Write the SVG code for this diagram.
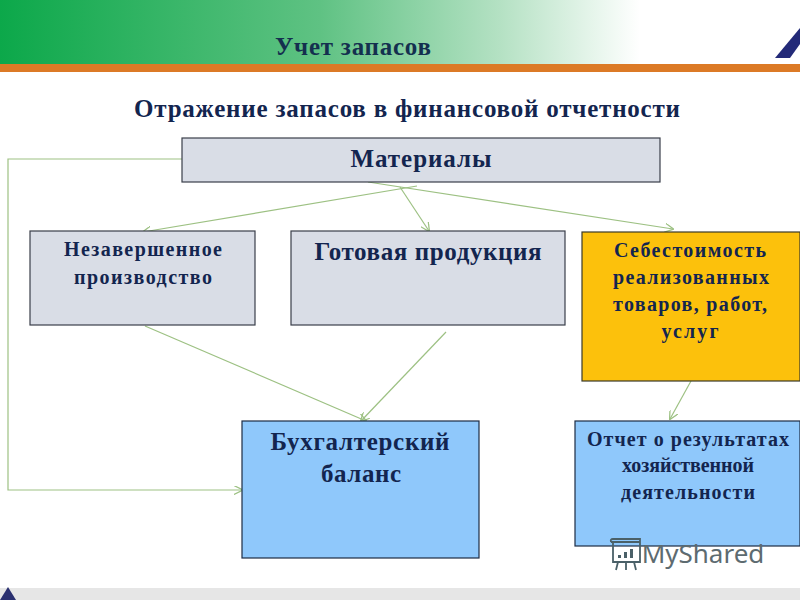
<svg xmlns="http://www.w3.org/2000/svg" width="800" height="600" viewBox="0 0 800 600">
<style>
text{font-family:"Liberation Serif","Times New Roman",serif;font-weight:bold;fill:#13254f;text-anchor:middle}
.gn{fill:#d9dde6;stroke:#3a3f4a;stroke-width:1.2}
.bl{fill:#8fc8fb;stroke:#1d2c44;stroke-width:1.2}
.c{fill:none;stroke:#9dc183;stroke-width:1.2;marker-end:url(#a)}
.t{font-size:20px}
.b{font-size:25px}
</style>
<defs>
<linearGradient id="g"><stop offset="0" stop-color="#0ca84a"/><stop offset=".5" stop-color="#5fc283"/><stop offset=".78" stop-color="#b4e1c3"/><stop offset="1" stop-color="#fff"/></linearGradient>
<marker id="a" viewBox="0 0 10 10" refX="9" refY="5" markerWidth="9" markerHeight="9" markerUnits="userSpaceOnUse" orient="auto"><path d="M0 0L10 5L0 10" fill="none" stroke="#9dc183" stroke-width="1.4"/></marker>
</defs>
<rect width="800" height="600" fill="#fff"/>
<g id="header">
<rect width="640" height="64" fill="url(#g)"/>
<rect y="64" width="800" height="8" fill="#dc7a26"/>
<polygon points="775,58 800,28 800,44 790,58" fill="#232a78"/>
<text x="353" y="55" textLength="156" style="font-size:25px;fill:#14304f">Учет запасов</text>
<text x="407" y="117" textLength="546" style="font-size:25px">Отражение запасов в финансовой отчетности</text>
</g>
<g id="connectors">
<path class="c" d="M182 159H8V490H242"/>
<path class="c" d="M417 186L143 232"/>
<path class="c" d="M400 187L429 231"/>
<path class="c" d="M368 182L673 229"/>
<path class="c" d="M145 326L366 421"/>
<path class="c" d="M446 332L361 421"/>
<path class="c" d="M691 381L670 419"/>
</g>
<g id="materials"><rect class="gn" x="182" y="138" width="478" height="44"/><text x="421" y="167" textLength="141" class="b">Материалы</text></g>
<g id="wip"><rect class="gn" x="30" y="231" width="225" height="94"/><text x="143" y="256" textLength="158" class="t">Незавершенное</text><text x="143" y="284" textLength="138" class="t">производство</text></g>
<g id="finished"><rect class="gn" x="291" y="231" width="274" height="94"/><text x="428" y="260" textLength="227" class="b">Готовая продукция</text></g>
<g id="cost"><rect x="582" y="232" width="218" height="149" fill="#fcc10c" stroke="#3a3a2a" stroke-width="1.2"/><text x="690" y="257" textLength="152" class="t">Себестоимость</text><text x="691" y="284" textLength="156" class="t">реализованных</text><text x="690" y="311" textLength="154" class="t">товаров, работ,</text><text x="690" y="338" textLength="57" class="t">услуг</text></g>
<g id="balance"><rect class="bl" x="242" y="421" width="237" height="137"/><text x="360" y="450" textLength="179" class="b">Бухгалтерский</text><text x="361" y="482" textLength="80" class="b">баланс</text></g>
<g id="report"><rect class="bl" x="575" y="421" width="225" height="125"/><text x="688" y="446" textLength="202" class="t">Отчет о результатах</text><text x="688" y="472" textLength="132" class="t">хозяйственной</text><text x="688" y="499" textLength="134" class="t">деятельности</text></g>
<g id="watermark">
<g fill="none" stroke="#4a6068" stroke-width="1.8"><path d="M611 542H640V562H613V542M611 542Q610 539 613 539H640V542M618 562L616 570M626 562V570M634 562L636 570"/></g>
<path d="M618 558h3v-3h-3zM624 558h3v-6h-3zM630 558h3v-9h-3z" fill="#4a6068"/>
<text x="703" y="563" style="font-family:'Noto Sans',sans-serif;font-weight:normal;font-size:26px;fill:#5d6b70">MyShared</text>
</g>
<g id="footer">
<rect y="588" width="800" height="12" fill="#e6e6e6"/>
<polygon points="8,587 0,600 16,600" fill="#2a3070"/>
</g>
</svg>
